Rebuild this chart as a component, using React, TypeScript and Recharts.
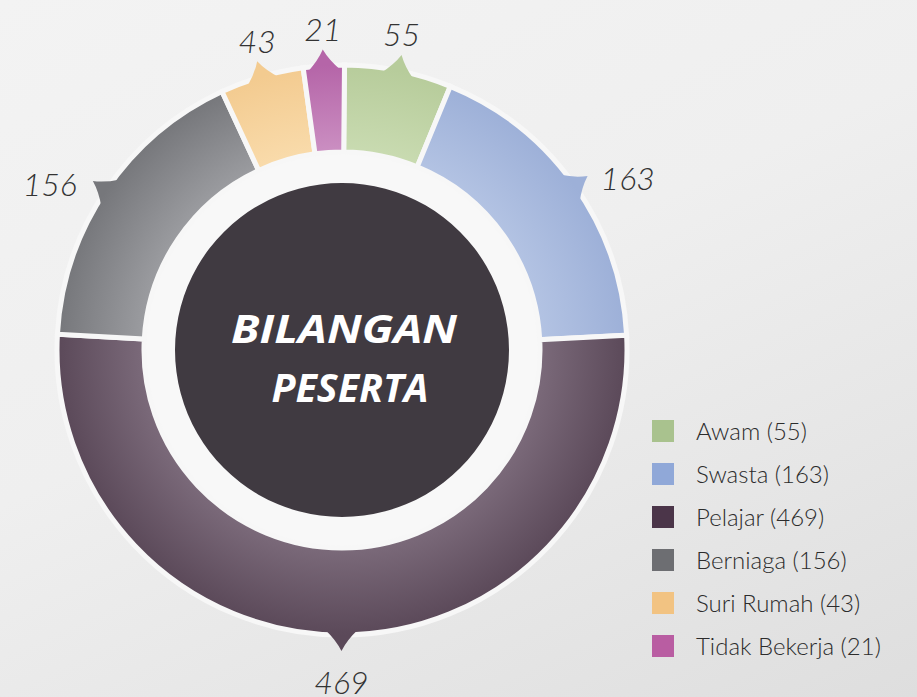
import React from 'react';
import { PieChart, Pie, Cell, Legend } from 'recharts';

const categories = ['Awam', 'Swasta', 'Pelajar', 'Berniaga', 'Suri Rumah', 'Tidak Bekerja'];
const participants = [55, 163, 469, 156, 43, 21];
const legendColors = ['#a9c28e', '#90a8d8', '#4b3549', '#6d6e72', '#f2c382', '#b95da2'];
const innerShades = ['#c9dbb1', '#b3c3e3', '#7b6a7a', '#9b9ca0', '#f9dbab', '#cb8fc2'];
const outerShades = ['#b7cc9b', '#9db0d8', '#5b4959', '#76777b', '#f3cb90', '#b565a8'];
const centerTitle = ['BILANGAN', 'PESERTA'];

const data = categories.map((name, i) => ({ name, value: participants[i] }));
const centerData = [{ name: 'centre', value: 1 }];

const CX = 342;
const CY = 350;
const R_IN = 198;
const R_OUT = 285;
const TIP = 301;
const RAD = Math.PI / 180;

const pt = (cx: number, cy: number, r: number, deg: number) => ({
  x: cx + r * Math.cos(-deg * RAD),
  y: cy + r * Math.sin(-deg * RAD),
});

function PointerLabel(props: any) {
  const { cx, cy, midAngle, outerRadius, index, value } = props;
  const L = pt(cx, cy, outerRadius - 5, midAngle + 3.4);
  const R = pt(cx, cy, outerRadius - 5, midAngle - 3.4);
  const c1 = pt(cx, cy, outerRadius + 5, midAngle + 1.1);
  const c2 = pt(cx, cy, outerRadius + 5, midAngle - 1.1);
  const T = pt(cx, cy, TIP, midAngle);
  const cos = Math.cos(midAngle * RAD);
  const sin = Math.sin(midAngle * RAD);
  let tx = T.x;
  let ty = T.y;
  let anchor: 'start' | 'end' | 'middle' = 'middle';
  if (Math.abs(cos) > 0.6) {
    anchor = cos > 0 ? 'start' : 'end';
    tx = T.x + (cos > 0 ? 13 : -16);
    ty = T.y + 2;
  } else if (sin > 0) {
    ty = T.y - 21;
  } else {
    ty = T.y + 31;
  }
  return (
    <g>
      <path
        d={`M${L.x},${L.y} Q${c1.x},${c1.y} ${T.x},${T.y} Q${c2.x},${c2.y} ${R.x},${R.y} Z`}
        fill={`url(#seg${index})`}
      />
      <text
        x={tx}
        y={ty}
        textAnchor={anchor}
        dominantBaseline="central"
        fontFamily="Lato, 'Open Sans', sans-serif"
        fontStyle="italic"
        fontWeight={300}
        fontSize={32}
        fill="#333333"
      >
        {value}
      </text>
    </g>
  );
}

function CenterLabel(props: any) {
  const { cx, cy } = props;
  return (
    <g>
      <text
        x={cx + 2}
        y={cy - 7}
        textAnchor="middle"
        fontFamily="'Open Sans', Lato, sans-serif"
        fontStyle="italic"
        fontWeight={700}
        fontSize={40}
        fill="#ffffff"
        textLength={226}
        lengthAdjust="spacingAndGlyphs"
      >
        {centerTitle[0]}
      </text>
      <text
        x={cx + 8}
        y={cy + 52}
        textAnchor="middle"
        fontFamily="'Open Sans', Lato, sans-serif"
        fontStyle="italic"
        fontWeight={700}
        fontSize={40}
        fill="#ffffff"
        textLength={157}
        lengthAdjust="spacingAndGlyphs"
      >
        {centerTitle[1]}
      </text>
    </g>
  );
}

function LegendContent(props: any) {
  const payload = (props.payload || [])
    .filter((item: any) => categories.indexOf(item.value) >= 0)
    .sort((a: any, b: any) => categories.indexOf(a.value) - categories.indexOf(b.value));
  return (
    <div style={{ display: 'flex', flexDirection: 'column' }}>
      {payload.map((item: any) => {
        const i = categories.indexOf(item.value);
        return (
          <div key={item.value} style={{ display: 'flex', alignItems: 'center', height: 43 }}>
            <span
              style={{
                display: 'inline-block',
                width: 22,
                height: 22,
                background: legendColors[i],
                marginRight: 22,
              }}
            />
            <span
              style={{
                fontFamily: "Lato, 'Open Sans', sans-serif",
                fontWeight: 300,
                fontSize: 24,
                color: '#2c2c2c',
                whiteSpace: 'nowrap',
              }}
            >
              {item.value} ({participants[i]})
            </span>
          </div>
        );
      })}
    </div>
  );
}

export default function App() {
  return (
    <div
      style={{
        position: 'relative',
        width: 917,
        height: 697,
        overflow: 'hidden',
        background:
          'linear-gradient(155deg, #f3f3f3 0%, #efefef 45%, #e6e6e6 75%, #dedede 100%)',
      }}
    >
      <style>{`body{margin:0}`}</style>
      <PieChart width={917} height={697} margin={{ top: 0, right: 0, bottom: 0, left: 0 }}>
        <defs>
          {categories.map((c, i) => (
            <radialGradient
              key={c}
              id={`seg${i}`}
              gradientUnits="userSpaceOnUse"
              cx={CX}
              cy={CY}
              r={TIP}
            >
              <stop offset={R_IN / TIP} stopColor={innerShades[i]} />
              <stop offset={R_OUT / TIP} stopColor={outerShades[i]} />
              <stop offset={1} stopColor={outerShades[i]} />
            </radialGradient>
          ))}
        </defs>
        <Pie
          data={centerData}
          dataKey="value"
          cx={CX}
          cy={CY}
          innerRadius={0}
          outerRadius={201}
          fill="#f8f8f8"
          stroke="none"
          isAnimationActive={false}
          legendType="none"
        />
        <Pie
          data={data}
          dataKey="value"
          nameKey="name"
          cx={CX}
          cy={CY}
          innerRadius={R_IN}
          outerRadius={R_OUT}
          startAngle={89.5}
          endAngle={-270.5}
          stroke="#f7f7f7"
          strokeWidth={5}
          label={PointerLabel}
          labelLine={false}
          isAnimationActive={false}
        >
          {data.map((d, i) => (
            <Cell key={d.name} fill={`url(#seg${i})`} />
          ))}
        </Pie>
        <Pie
          data={centerData}
          dataKey="value"
          cx={CX}
          cy={CY}
          innerRadius={0}
          outerRadius={167}
          fill="#403a41"
          stroke="none"
          label={CenterLabel}
          labelLine={false}
          isAnimationActive={false}
          legendType="none"
        />
        <Legend
          layout="vertical"
          align="right"
          verticalAlign="bottom"
          content={LegendContent}
          wrapperStyle={{ position: 'absolute', left: 652, top: 409, width: 265, bottom: 'auto', right: 'auto' }}
        />
      </PieChart>
    </div>
  );
}
